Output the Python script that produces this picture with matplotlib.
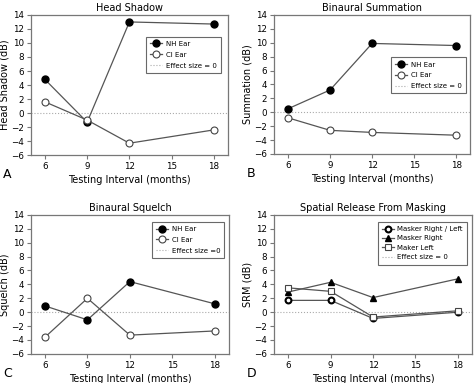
import numpy as np
import matplotlib
matplotlib.use('Agg')
import matplotlib.pyplot as plt

# testing intervals (months)
months = [6, 9, 12, 18]

# head shadow
hs_nh = [4.8, -1.3, 13.0, 12.7]
hs_ci = [1.6, -1.0, -4.3, -2.4]

# binaural summation
sum_nh = [0.5, 3.2, 9.9, 9.6]
sum_ci = [-0.8, -2.6, -2.9, -3.3]

# binaural squelch
sq_nh = [0.9, -1.1, 4.4, 1.2]
sq_ci = [-3.6, 2.0, -3.3, -2.7]

# spatial release from masking
srm_rl = [1.7, 1.7, -0.9, 0.0]
srm_right = [2.9, 4.3, 2.1, 4.8]
srm_left = [3.5, 3.0, -0.7, 0.2]

plt.rcParams['font.family'] = 'DejaVu Sans'

fig = plt.figure(figsize=(4.74, 3.83), dpi=100)

line_col = '#555555'
spine_col = '#777777'

def setup(ax, title, ylabel, letter):
    ax.axhline(0, color='#aaaaaa', lw=0.8, ls=':', zorder=0)
    ax.set_xlim(5, 19)
    ax.set_ylim(-6, 14)
    ax.set_xticks([6, 9, 12, 15, 18])
    ax.set_yticks(range(-6, 15, 2))
    ax.tick_params(labelsize=6.3, length=3, width=0.8, color=spine_col, pad=2)
    for s in ax.spines.values():
        s.set_color(spine_col)
        s.set_linewidth(0.9)
    ax.set_title(title, fontsize=7, pad=3)
    ax.set_ylabel(ylabel, fontsize=7, labelpad=1)
    ax.set_xlabel('Testing Interval (months)', fontsize=7, labelpad=3)
    pos = ax.get_position()
    fig.text(pos.x0 - 0.058, pos.y0 - 0.05, letter, fontsize=9, ha='left', va='center')

def two_series(ax, nh, ci, eff_label, anchor):
    ax.plot(months, nh, color=line_col, lw=0.9, marker='o', ms=5,
            mfc='black', mec='black', label='NH Ear')
    ax.plot(months, ci, color=line_col, lw=0.9, marker='o', ms=5,
            mfc='white', mec='#444444', mew=0.8, label='CI Ear')
    ax.plot([], [], color='#aaaaaa', lw=0.8, ls=':', label=eff_label)
    leg = ax.legend(loc='upper right', bbox_to_anchor=anchor, fontsize=5,
                    frameon=True, fancybox=False, edgecolor='#444444',
                    handlelength=1.7, borderpad=0.6, labelspacing=0.7,
                    handletextpad=0.5)
    leg.get_frame().set_linewidth(0.8)

axA = fig.add_axes([0.065, 0.595, 0.416, 0.366])
two_series(axA, hs_nh, hs_ci, 'Effect size = 0', (0.98, 0.87))
setup(axA, 'Head Shadow', 'Head Shadow (dB)', 'A')

axB = fig.add_axes([0.578, 0.598, 0.414, 0.363])
two_series(axB, sum_nh, sum_ci, 'Effect size = 0', (0.995, 0.72))
setup(axB, 'Binaural Summation', 'Summation (dB)', 'B')

axC = fig.add_axes([0.065, 0.076, 0.418, 0.363])
two_series(axC, sq_nh, sq_ci, 'Effect size =0', (0.995, 0.975))
setup(axC, 'Binaural Squelch', 'Squelch (dB)', 'C')

axD = fig.add_axes([0.578, 0.076, 0.418, 0.363])
axD.plot(months, srm_rl, color=line_col, lw=0.9, marker='o', ms=4.2,
         mfc='white', mec='black', mew=1.5, label='Masker Right / Left')
axD.plot(months, srm_right, color=line_col, lw=0.9, marker='^', ms=5,
         mfc='black', mec='black', label='Masker Right')
axD.plot(months, srm_left, color=line_col, lw=0.9, marker='s', ms=5,
         mfc='white', mec='#444444', mew=0.8, label='Maker Left')
axD.plot([], [], color='#aaaaaa', lw=0.8, ls=':', label='Effect size = 0')
leg = axD.legend(loc='upper right', bbox_to_anchor=(0.99, 0.975), fontsize=5,
                 frameon=True, fancybox=False, edgecolor='#444444',
                 handlelength=1.7, borderpad=0.6, labelspacing=0.5,
                 handletextpad=0.5)
leg.get_frame().set_linewidth(0.8)
setup(axD, 'Spatial Release From Masking', 'SRM (dB)', 'D')

fig.savefig('out.png', dpi=100)
